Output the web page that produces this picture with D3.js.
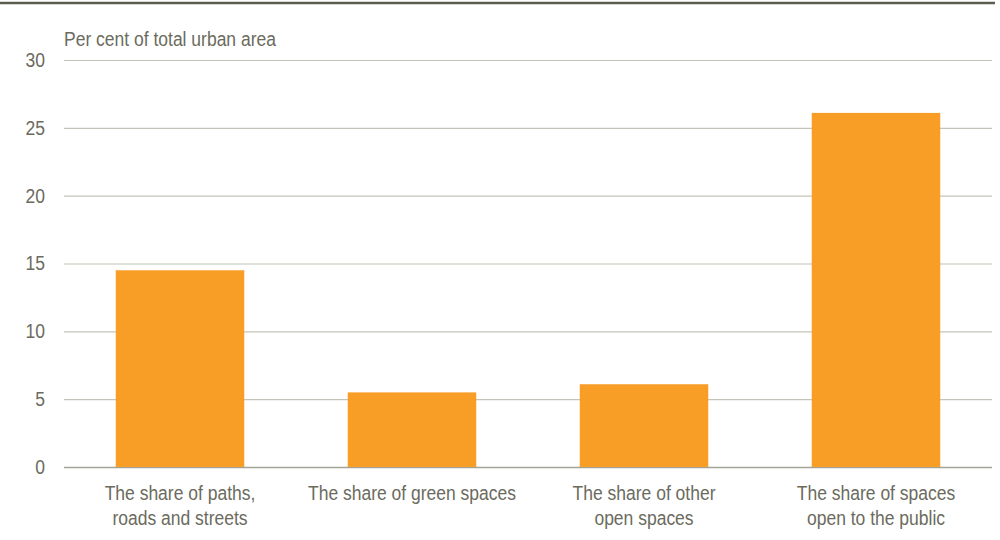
<!DOCTYPE html>
<html>
<head>
<meta charset="utf-8">
<script src="https://cdn.jsdelivr.net/npm/d3@7"></script>
<style>
  body { margin: 0; background: #fff; }
  text { font-family: "Liberation Sans Narrow", "Arial Narrow", "Liberation Sans", sans-serif; fill: #6b6b5e; }
</style>
</head>
<body>
<div id="chart"></div>
<script>
// data
var categories = [
  ["The share of paths,", "roads and streets"],
  ["The share of green spaces"],
  ["The share of other", "open spaces"],
  ["The share of spaces", "open to the public"]
];
var values = [14.5, 5.5, 6.1, 26.1];
var yTicks = [0, 5, 10, 15, 20, 25, 30];
var yTitle = "Per cent of total urban area";

var W = 1000, H = 540;
var margin = { top: 60, right: 8, bottom: 73, left: 64 },
    width = W - margin.left - margin.right,
    height = H - margin.top - margin.bottom;
var squeeze = 0.875; // fake a narrow face

var root = d3.select("#chart").append("svg")
    .attr("width", W)
    .attr("height", H);

// top rule
root.append("line")
    .attr("x1", 0).attr("x2", 995)
    .attr("y1", 3).attr("y2", 3)
    .attr("stroke", "#5e5e4e")
    .attr("stroke-width", 2.5);

var svg = root.append("g")
    .attr("transform", "translate(" + margin.left + "," + margin.top + ")");

var x = d3.scaleBand()
    .domain(d3.range(categories.length))
    .range([0, width])
    .paddingInner(0.446)
    .paddingOuter(0.223);

var y = d3.scaleLinear()
    .domain([0, 30])
    .range([height, 0]);

// gridlines
svg.append("g")
  .selectAll("line")
  .data(yTicks)
  .enter()
  .append("line")
    .attr("x1", 0).attr("x2", width)
    .attr("y1", function (d) { return y(d) + 0.5; })
    .attr("y2", function (d) { return y(d) + 0.5; })
    .attr("stroke", function (d) { return d === 0 ? "#a3a396" : "#c4c4b8"; })
    .attr("stroke-width", function (d) { return d === 0 ? 1.5 : 1.2; });

// y axis labels
var yAxis = svg.append("g")
    .call(d3.axisLeft(y).tickValues(yTicks).tickSize(0).tickPadding(0));
yAxis.select(".domain").remove();
yAxis.selectAll("text")
    .attr("x", 0)
    .attr("transform", "translate(-19,0) scale(" + squeeze + ",1)")
    .style("font-size", "20px")
    .attr("fill", "#6b6b5e");

// bars
svg.append("g")
  .selectAll("rect")
  .data(values)
  .enter()
  .append("rect")
    .attr("x", function (d, i) { return x(i); })
    .attr("y", function (d) { return y(d); })
    .attr("width", x.bandwidth())
    .attr("height", function (d) { return y(0) - y(d); })
    .attr("fill", "#f89d26");

// category labels
var lab = svg.append("g")
  .selectAll("text")
  .data(categories)
  .enter()
  .append("text")
    .attr("text-anchor", "middle")
    .attr("transform", function (d, i) {
      return "translate(" + (x(i) + x.bandwidth() / 2) + "," + (height + 33) + ") scale(" + squeeze + ",1)";
    })
    .style("font-size", "20px");
lab.selectAll("tspan")
  .data(function (d) { return d; })
  .enter()
  .append("tspan")
    .attr("x", 0)
    .attr("dy", function (d, i) { return i === 0 ? 0 : 25; })
    .text(function (d) { return d; });

// axis title
svg.append("text")
    .attr("transform", "translate(0,-14) scale(" + squeeze + ",1)")
    .style("font-size", "20px")
    .text(yTitle);
</script>
</body>
</html>
